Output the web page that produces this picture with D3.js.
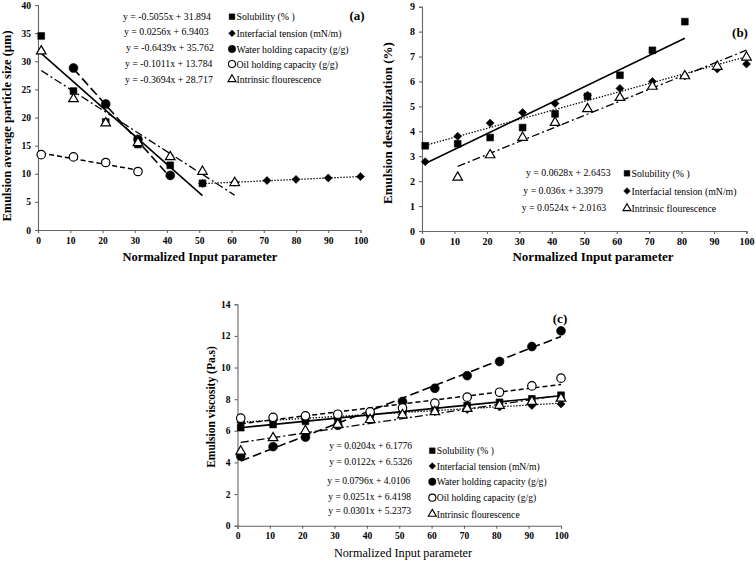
<!DOCTYPE html>
<html><head><meta charset="utf-8">
<script src="https://cdn.jsdelivr.net/npm/d3@7"></script>
<style>html,body{margin:0;padding:0;background:#fff;}svg{display:block;}</style>
</head><body>
<svg id="c" width="756" height="561"></svg>
<script>
// ---------- shared ----------
const seriesNames = ["Solubility (% )","Interfacial tension (mN/m)","Water holding capacity (g/g)","Oil holding capacity (g/g)","Intrinsic flourescence"];
const xTicks = [0,10,20,30,40,50,60,70,80,90,100];

// ---------- panel (a) ----------
const aSolX = [1,11,21,31,41,51],           aSolY = [34.5,24.7,19.2,15.2,11.5,8.3];
const aIntX = [51,61,71,80,90,100],         aIntY = [8.25,8.5,8.8,9.0,9.25,9.5];
const aWatX = [11,21,31,41],                aWatY = [28.8,22.4,16.1,9.7];
const aOilX = [1,11,21,31],                 aOilY = [13.4,13.0,12.0,10.4];
const aFluX = [1,11,21,31,41,51,61],        aFluY = [31.8,23.3,19.0,15.5,13.0,10.4,8.4];
const aSlope = [-0.5055,0.0256,-0.6439,-0.1011,-0.3694];
const aIcpt  = [31.894,6.9403,35.762,13.784,28.717];
const aEq = ["y = -0.5055x + 31.894","y = 0.0256x + 6.9403","y = -0.6439x + 35.762","y = -0.1011x + 13.784","y = -0.3694x + 28.717"];
const aYTicks = [0,5,10,15,20,25,30,35,40];

// ---------- panel (b) ----------
const bX = [1,11,21,31,41,51,61,71,81,91,100];
const bSolX = [1,11,21,31,41,51,61,71,81],  bSolY = [3.42,3.5,3.75,4.15,4.7,5.4,6.25,7.25,8.4];
const bIntX = bX,                           bIntY = [2.78,3.8,4.33,4.75,5.12,5.45,5.72,6.0,6.22,6.5,6.7];
const bFluX = [11,21,31,41,51,61,71,81,91,100], bFluY = [2.15,3.05,3.75,4.35,4.9,5.35,5.8,6.22,6.6,6.97];
const bSlope = [0.0628,0.036,0.0524];
const bIcpt  = [2.6453,3.3979,2.0163];
const bEq = ["y = 0.0628x + 2.6453","y = 0.036x + 3.3979","y = 0.0524x + 2.0163"];
const bYTicks = [0,1,2,3,4,5,6,7,8,9];

// ---------- panel (c) ----------
const cX = [1,11,21,31,41,51,61,71,81,91,100];
const cSolY = [6.2,6.4,6.6,6.8,7.0,7.2,7.35,7.6,7.8,8.02,8.25];
const cIntY = [6.55,6.65,6.75,6.85,6.95,7.05,7.2,7.35,7.5,7.6,7.7];
const cWatY = [4.4,5.0,5.6,6.35,7.1,7.85,8.69,9.49,10.38,11.33,12.32];
const cOilY = [6.8,6.85,6.95,7.05,7.2,7.45,7.75,8.13,8.44,8.84,9.33];
const cFluY = [4.7,5.55,6.0,6.4,6.7,7.0,7.2,7.4,7.6,7.85,8.05];
const cSlope = [0.0204,0.0122,0.0796,0.0251,0.0301];
const cIcpt  = [6.1776,6.5326,4.0106,6.4198,5.2373];
const cEq = ["y = 0.0204x + 6.1776","y = 0.0122x + 6.5326","y = 0.0796x + 4.0106","y = 0.0251x + 6.4198","y = 0.0301x + 5.2373"];
const cYTicks = [0,2,4,6,8,10,12,14];

// ---------- styles ----------
const squareDiamond = {draw(ctx,size){const r=Math.sqrt(size/2);ctx.moveTo(0,-r);ctx.lineTo(r,0);ctx.lineTo(0,r);ctx.lineTo(-r,0);ctx.closePath();}};
const markerStyle = [
  {type:d3.symbolSquare,  size:46, fill:"#000"},
  {type:squareDiamond,    size:32, fill:"#000"},
  {type:d3.symbolCircle,  size:62, fill:"#000"},
  {type:d3.symbolCircle,  size:56, fill:"#fff"},
  {type:d3.symbolTriangle,size:40, fill:"#fff"}
];
const lineStyle = [
  {dash:null,        w:1.6},
  {dash:"1.4,1.6",   w:1.3},
  {dash:"9,4",       w:1.6},
  {dash:"5,3",       w:1.5},
  {dash:"8,3,2,3",   w:1.3}
];
const SERIF = "'Liberation Serif','Times New Roman',serif";
const svg = d3.select("#c");

function drawPanel(cfg){
  const g = svg.append("g");
  const x = d3.scaleLinear().domain([0,100]).range(cfg.xr);
  const y = d3.scaleLinear().domain([0,cfg.ymax]).range(cfg.yr);
  const xa = g.append("g").attr("transform",`translate(0,${cfg.yr[0]})`)
    .call(d3.axisBottom(x).tickValues(xTicks).tickSize(3).tickPadding(4).tickFormat(d3.format("d")));
  const ya = g.append("g").attr("transform",`translate(${cfg.xr[0]},0)`)
    .call(d3.axisLeft(y).tickValues(cfg.yTicks).tickSize(3).tickPadding(4).tickFormat(d3.format("d")));
  [xa,ya].forEach(a=>{
    a.selectAll("path,line").attr("stroke","#666").attr("stroke-width",1.1);
    a.selectAll("text").attr("font-family",SERIF).attr("font-weight","bold")
      .attr("font-size",cfg.tickFs).attr("fill","#000");
  });
  // titles
  g.append("text").attr("x",cfg.xTitle[0]).attr("y",cfg.xTitle[1]).attr("text-anchor","middle")
    .attr("font-family",SERIF).attr("font-weight",cfg.xTitleW).attr("font-size",cfg.xTitleFs)
    .text("Normalized Input parameter");
  g.append("text").attr("transform",`translate(${cfg.yTitle[0]},${cfg.yTitle[1]}) rotate(-90)`)
    .attr("text-anchor","middle").attr("font-family",SERIF).attr("font-weight","bold")
    .attr("font-size",cfg.yTitleFs).text(cfg.yLabel);
  g.append("text").attr("x",cfg.tag[0]).attr("y",cfg.tag[1]).attr("text-anchor","middle")
    .attr("font-family",SERIF).attr("font-weight","bold").attr("font-size",13).text(cfg.tagText);

  // trendlines
  cfg.series.forEach(s=>{
    const ls = lineStyle[s.k];
    const x0 = d3.min(s.xs), x1 = d3.max(s.xs);
    const pts = [[x0, s.m*x0+s.b],[x1, s.m*x1+s.b]];
    g.append("path").attr("d",d3.line().x(d=>x(d[0])).y(d=>y(d[1]))(pts))
      .attr("fill","none").attr("stroke","#000").attr("stroke-width",ls.w)
      .attr("stroke-dasharray",ls.dash);
  });
  // markers
  cfg.series.forEach(s=>{
    const ms = markerStyle[s.k];
    const sym = d3.symbol().type(ms.type).size(ms.size);
    g.selectAll(null).data(s.xs.map((v,i)=>[v,s.ys[i]])).join("path")
      .attr("d",sym).attr("transform",d=>`translate(${x(d[0])},${y(d[1])})`)
      .attr("fill",ms.fill).attr("stroke","#000").attr("stroke-width",ms.fill==="#fff"?1.2:0.6);
  });
  // legend: equations
  cfg.eq.forEach((t,i)=>{
    g.append("text").attr("x",cfg.eqX[i]).attr("y",cfg.eqY[i]+3.5)
      .attr("font-family",SERIF).attr("font-size",cfg.legFs).text(t);
  });
  // legend: series entries
  cfg.legK.forEach((k,i)=>{
    const ms = markerStyle[k];
    const sym = d3.symbol().type(ms.type).size(ms.size*0.7);
    g.append("path").attr("d",sym).attr("transform",`translate(${cfg.legMX},${cfg.legY[i]})`)
      .attr("fill",ms.fill).attr("stroke","#000").attr("stroke-width",ms.fill==="#fff"?1.1:0.5);
    g.append("text").attr("x",cfg.legMX+4.5).attr("y",cfg.legY[i]+3.5)
      .attr("font-family",SERIF).attr("font-size",cfg.legFs).text(seriesNames[k]);
  });
}

drawPanel({
  xr:[38,360.5], yr:[230,5], ymax:40, yTicks:aYTicks, tickFs:9.5,
  xTitle:[200,261], xTitleW:"bold", xTitleFs:12.5,
  yTitle:[11,126], yTitleFs:12.5, yLabel:"Emulsion average particle size (µm)",
  tag:[357,20], tagText:"(a)",
  series:[
    {k:0, xs:aSolX, ys:aSolY, m:aSlope[0], b:aIcpt[0]},
    {k:1, xs:aIntX, ys:aIntY, m:aSlope[1], b:aIcpt[1]},
    {k:2, xs:aWatX, ys:aWatY, m:aSlope[2], b:aIcpt[2]},
    {k:3, xs:aOilX, ys:aOilY, m:aSlope[3], b:aIcpt[3]},
    {k:4, xs:aFluX, ys:aFluY, m:aSlope[4], b:aIcpt[4]}
  ],
  eq:aEq, eqX:[123,124,126,125,125], eqY:[16.7,31.7,47,63,79],
  legK:[0,1,2,3,4], legMX:232, legY:[16.7,33.3,49,64,79.3], legFs:9.8
});

drawPanel({
  xr:[422,746.5], yr:[231,6.7], ymax:9, yTicks:bYTicks, tickFs:10,
  xTitle:[593,261], xTitleW:"bold", xTitleFs:13,
  yTitle:[392,123], yTitleFs:13, yLabel:"Emulsion destabilization (%)",
  tag:[740,37], tagText:"(b)",
  series:[
    {k:0, xs:bSolX, ys:bSolY, m:bSlope[0], b:bIcpt[0]},
    {k:1, xs:bIntX, ys:bIntY, m:bSlope[1], b:bIcpt[1]},
    {k:4, xs:bFluX, ys:bFluY, m:bSlope[2], b:bIcpt[2]}
  ],
  eq:bEq, eqX:[526,523.3,521.7], eqY:[172.7,190,207.3],
  legK:[0,1,4], legMX:627, legY:[173.3,191,208.3], legFs:9.8
});

drawPanel({
  xr:[237.5,561], yr:[525.7,304.3], ymax:14, yTicks:cYTicks, tickFs:9.5,
  xTitle:[403,557], xTitleW:"normal", xTitleFs:12.2,
  yTitle:[215,407], yTitleFs:11.5, yLabel:"Emulsion viscosity (Pa.s)",
  tag:[560,323], tagText:"(c)",
  series:[
    {k:0, xs:cX, ys:cSolY, m:cSlope[0], b:cIcpt[0]},
    {k:1, xs:cX, ys:cIntY, m:cSlope[1], b:cIcpt[1]},
    {k:2, xs:cX, ys:cWatY, m:cSlope[2], b:cIcpt[2]},
    {k:3, xs:cX, ys:cOilY, m:cSlope[3], b:cIcpt[3]},
    {k:4, xs:cX, ys:cFluY, m:cSlope[4], b:cIcpt[4]}
  ],
  eq:cEq, eqX:[329.3,329.3,327.3,328.3,328.3], eqY:[445.7,461.7,480.7,496,510.7],
  legK:[0,1,2,3,4], legMX:432.3, legY:[450.7,466,481.7,497.7,514], legFs:9.6
});
</script>
</body></html>
